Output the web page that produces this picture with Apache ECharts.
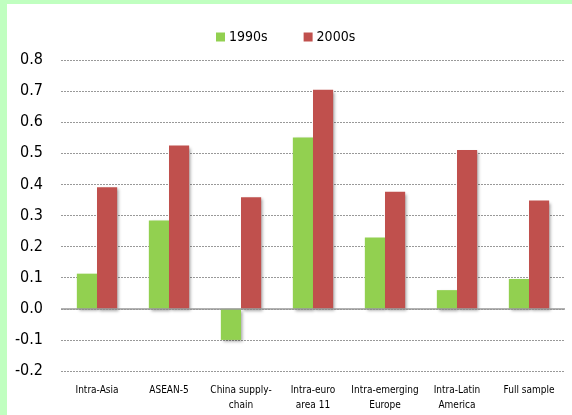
<!DOCTYPE html>
<html><head><meta charset="utf-8">
<script src="https://cdn.jsdelivr.net/npm/echarts@6/dist/echarts.min.js"></script>
<style>
html,body{margin:0;padding:0;background:#C0FFC0;width:572px;height:415px;overflow:hidden;}
#c{position:absolute;left:7px;top:4px;width:565px;height:411px;background:#fff;}
</style></head>
<body><div id="c"></div>
<script>
const categories = ['Intra-Asia','ASEAN-5','China supply-\nchain','Intra-euro\narea 11','Intra-emerging\nEurope','Intra-Latin\nAmerica','Full sample'];
const series1990s = [0.113, 0.284, -0.100, 0.551, 0.229, 0.060, 0.096];
const series2000s = [0.391, 0.525, 0.359, 0.704, 0.376, 0.511, 0.348];
const seriesNames = ['1990s','2000s'];
const FONT = '"DejaVu Sans Condensed","Liberation Sans Narrow",sans-serif';
const chart = echarts.init(document.getElementById('c'));
const shadow = {shadowColor:'rgba(0,0,0,0.35)', shadowBlur:3, shadowOffsetX:2, shadowOffsetY:2};
chart.setOption({
  animation:false,
  legend:{
    data:seriesNames, left:204, top:21, itemWidth:9, itemHeight:9, itemGap:36,
    icon:'rect', textStyle:{fontFamily:FONT, fontSize:14, color:'#000', padding:[0,0,0,-1]}
  },
  grid:{left:54, right:7, top:56, bottom:44},
  xAxis:{
    type:'category', data:categories,
    axisLine:{show:false}, axisTick:{show:false},
    axisLabel:{fontFamily:FONT, fontSize:10, color:'#000', margin:12, lineHeight:15, interval:0}
  },
  yAxis:{
    type:'value', min:-0.2, max:0.8, interval:0.1,
    axisLabel:{fontFamily:FONT, fontSize:16, color:'#000', margin:18, formatter:v=>v.toFixed(1)},
    axisLine:{show:false}, axisTick:{show:false},
    splitLine:{lineStyle:{type:[2,1], color:'#999', width:1}}
  },
  series:[
    {name:seriesNames[0], type:'bar', data:series1990s, barGap:'0%', barCategoryGap:'44%',
     itemStyle:Object.assign({color:'#92D050'}, shadow),
     markLine:{symbol:'none', silent:true, label:{show:false}, lineStyle:{color:'#999', type:'solid', width:1.5}, data:[{yAxis:0}]}},
    {name:seriesNames[1], type:'bar', data:series2000s, barGap:'0%', barCategoryGap:'44%',
     itemStyle:Object.assign({color:'#C0504D'}, shadow)}
  ]
});
</script></body></html>
